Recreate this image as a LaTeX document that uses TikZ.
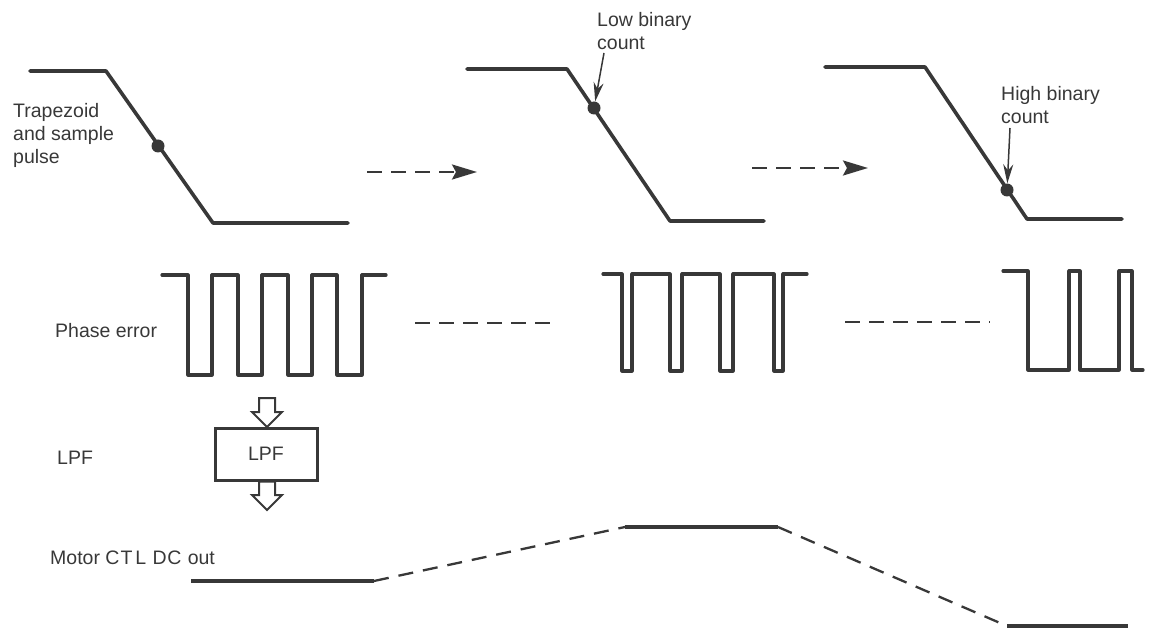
\documentclass[tikz,border=0pt]{standalone}
\usepackage{fontspec}
\setmainfont{Liberation Sans}
\usetikzlibrary{arrows.meta}
\definecolor{ink}{HTML}{383838}
\begin{document}
\begin{tikzpicture}[x=1pt,y=-1pt,
  trap/.style={draw=ink, line width=3.6pt, line join=round, line cap=round},
  wave/.style={draw=ink, line width=3.2pt, line join=round, line cap=round},
  dashline/.style={draw=ink, line width=2.6pt, dash pattern=on 15pt off 9pt},
  lbl/.style={font=\fontsize{19.5}{23}\selectfont, text=ink, inner sep=0pt, anchor=west, align=left},
  sdot/.style={circle, fill=ink, inner sep=0pt, minimum size=13pt},
  ptr/.style={draw=ink, line width=1.5pt, -{Stealth[length=19pt,width=10pt]}},
  flow/.style={draw=ink, line width=2pt, fill=white, line join=miter},
  dcline/.style={draw=ink, line width=4pt},
  dcdash/.style={draw=ink, line width=2.3pt, dash pattern=on 15pt off 10pt},
  lpfbox/.style={draw=ink, line width=3pt, minimum width=102pt, minimum height=52pt, inner sep=0pt, font=\fontsize{19.5}{23}\selectfont, text=ink}]
\useasboundingbox (0,0) rectangle (1154,628);

% ---- labels on the left
\node[lbl] (ttrap) at (13,135) {Trapezoid\\and sample\\pulse};
\node[lbl] (tphase) at (55,331) {Phase error};
\node[lbl] (tlpf) at (57,458) {LPF};
\node[lbl] (tmotor) at (50,558) {Motor C\kern1ptT\kern3ptL\kern1pt{} D\kern0.5ptC\kern1pt{} out};

% ---- trapezoids
\draw[trap] (30,71) -- (106,71) -- (213,223) -- (348,223);
\node[sdot] (dot1) at (158,146) {};

\draw[trap] (467,69) -- (567,69) -- (670,221) -- (764,221);
\node[sdot] (dot2) at (594,108) {};
\node[lbl] (tlow) at (597,31) {Low binary\\count};
\coordinate (lowtail) at (604,53);
\draw[ptr] (lowtail) -- (dot2);

\draw[trap] (825,67) -- (925,67) -- (1027,219) -- (1122,219);
\node[sdot] (dot3) at (1007,190) {};
\node[lbl] (thigh) at (1001,105) {High binary\\count};
\coordinate (hightail) at (1010,128);
\draw[ptr] (hightail) -- (dot3);

% ---- dashed arrows between trapezoids
\coordinate (a1s) at (367,172);
\coordinate (a1e) at (477,172);
\draw[dashline, -{Stealth[length=25pt,width=15pt,inset=4pt]}] (a1s) -- (a1e);
\coordinate (a2s) at (752,168);
\coordinate (a2e) at (868,168);
\draw[dashline, -{Stealth[length=25pt,width=15pt,inset=4pt]}] (a2s) -- (a2e);

% ---- phase error waveforms
\draw[wave] (162,275) -| (188,375) -| (212,275) -| (238,375) -| (262,275)
  -| (288,375) -| (312,275) -| (337,375) -| (362,275) -- (386,275);
\draw[wave] (603,274) -| (622,371) -| (632,274) -| (670,371) -| (682,274)
  -| (720,371) -| (733,274) -| (774,371) -| (783,274) -- (807,274);
\draw[wave] (1003,271) -| (1028,370) -| (1069,271) -| (1080,370) -| (1119,271)
  -| (1132,370) -- (1143,370);

\coordinate (d1s) at (415,323);
\coordinate (d1e) at (557,323);
\draw[dashline] (d1s) -- (d1e);
\coordinate (d2s) at (845,322);
\coordinate (d2e) at (990,322);
\draw[dashline] (d2s) -- (d2e);

% ---- LPF block
\node[lpfbox] (lpf) at (266,454) {LPF};
\draw[flow] (259,398) -- (275,398) -- (275,412) -- (282,412) -- (267,427)
  -- (252,412) -- (259,412) -- cycle;
\draw[flow] (259,481.5) -- (275,481.5) -- (275,495) -- (282,495) -- (267,510)
  -- (252,495) -- (259,495) -- cycle;

% ---- motor CTL DC out
\coordinate (m1a) at (191,581);
\coordinate (m1b) at (374,581);
\coordinate (m2a) at (625,527);
\coordinate (m2b) at (778,527);
\coordinate (m3a) at (1007,626);
\coordinate (m3b) at (1128,626);
\draw[dcline] (m1a) -- (m1b);
\draw[dcline] (m2a) -- (m2b);
\draw[dcline] (m3a) -- (m3b);
\draw[dcdash] (m1b) -- (m2a);
\draw[dcdash] (m2b) -- (m3a);
\end{tikzpicture}
\end{document}
